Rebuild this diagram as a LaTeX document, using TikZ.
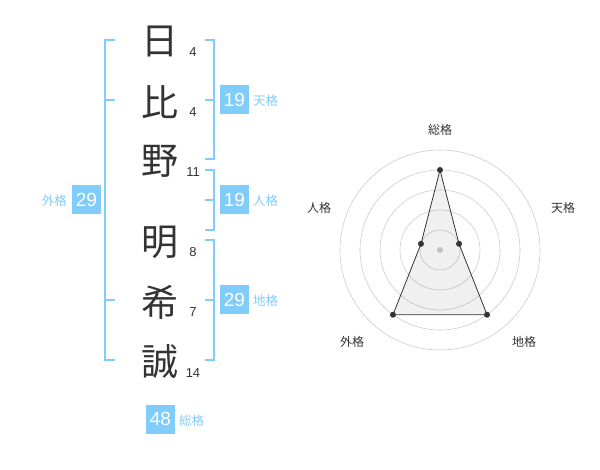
\documentclass[tikz,border=0pt]{standalone}
\usepackage{fontspec}
\setmainfont{Noto Sans CJK JP}
\newfontfamily\digitfont{Liberation Sans}
\definecolor{blu}{HTML}{80CCFA}
\definecolor{ink}{HTML}{333333}
\definecolor{ring}{HTML}{CCCCCC}
\tikzset{
  kanji/.style={inner sep=0pt, text=ink, font=\fontsize{37}{37}\selectfont},
  strokes/.style={inner sep=0pt, text=ink, font=\digitfont\fontsize{13}{13}\selectfont},
  valbox/.style={fill=blu, text=white, minimum width=29pt, minimum height=29pt, inner sep=0pt, font=\digitfont\fontsize{19}{19}\selectfont},
  vallabel/.style={inner sep=0pt, text=blu, font=\fontsize{12.5}{12.5}\selectfont},
  brk/.style={draw=blu, line width=2pt},
  axlabel/.style={inner sep=0pt, text=ink, font=\fontsize{12}{12}\selectfont},
  dot/.style={circle, fill=ink, inner sep=0pt, minimum size=6pt},
}
\begin{document}
\begin{tikzpicture}[x=1pt,y=-1pt]
\useasboundingbox (0,0) rectangle (600,470);
% kanji
\node[kanji] (k1) at (160,41) {日};
\node[kanji] (k2) at (160,102) {比};
\node[kanji] (k3) at (160,161) {野};
\node[kanji] (k4) at (160,242) {明};
\node[kanji] (k5) at (160,302) {希};
\node[kanji] (k6) at (160,362) {誠};
\node[strokes] (s1) at (193,52) {4};
\node[strokes] (s2) at (193,112) {4};
\node[strokes] (s3) at (193,172) {11};
\node[strokes] (s4) at (193,252) {8};
\node[strokes] (s5) at (193,312) {7};
\node[strokes] (s6) at (193,373) {14};
% brackets
\draw[brk] (115,40) -- (105,40) -- (105,360) -- (115,360);
\draw[brk] (105,100) -- (115,100);
\draw[brk] (105,300) -- (115,300);
\draw[brk] (205,40) -- (214,40) -- (214,159) -- (205,159);
\draw[brk] (205,100) -- (214,100);
\draw[brk] (205,170) -- (214,170) -- (214,230) -- (205,230);
\draw[brk] (205,200) -- (214,200);
\draw[brk] (205,240) -- (214,240) -- (214,360) -- (205,360);
\draw[brk] (205,300) -- (214,300);
% value boxes
\node[valbox] (ten) at (234.5,100) {19};
\node[vallabel, anchor=west] (tenl) at (253,101) {天格};
\node[valbox] (jin) at (234.5,200) {19};
\node[vallabel, anchor=west] (jinl) at (253,201) {人格};
\node[valbox] (chi) at (234.5,300) {29};
\node[vallabel, anchor=west] (chil) at (253,301) {地格};
\node[valbox] (gai) at (86.5,200) {29};
\node[vallabel, anchor=east] (gail) at (67,201) {外格};
\node[valbox] (sou) at (160.5,419) {48};
\node[vallabel, anchor=west] (soul) at (179,421) {総格};
% radar
\begin{scope}[shift={(440,250)}, y=1pt]
  \foreach \r in {20,40,60,80,100} \draw[ring, line width=0.6pt] (0,0) circle (\r);
  \fill[ring] (0,0) circle (3);
  \coordinate (pS) at (90:80);
  \coordinate (pT) at (18:20);
  \coordinate (pC) at (-54:80);
  \coordinate (pG) at (-126:80);
  \coordinate (pJ) at (162:20);
  \filldraw[fill=black, fill opacity=0.06, draw=ink, line width=0.8pt] (pS) -- (pT) -- (pC) -- (pG) -- (pJ) -- cycle;
  \foreach \p in {pS,pT,pC,pG,pJ} \node[dot] at (\p) {};
  \node[axlabel] (lS) at (0,120) {総格};
  \node[axlabel] (lT) at (123,42) {天格};
  \node[axlabel] (lC) at (84,-92) {地格};
  \node[axlabel] (lG) at (-88,-92) {外格};
  \node[axlabel] (lJ) at (-121,42) {人格};
\end{scope}
\end{tikzpicture}
\end{document}
